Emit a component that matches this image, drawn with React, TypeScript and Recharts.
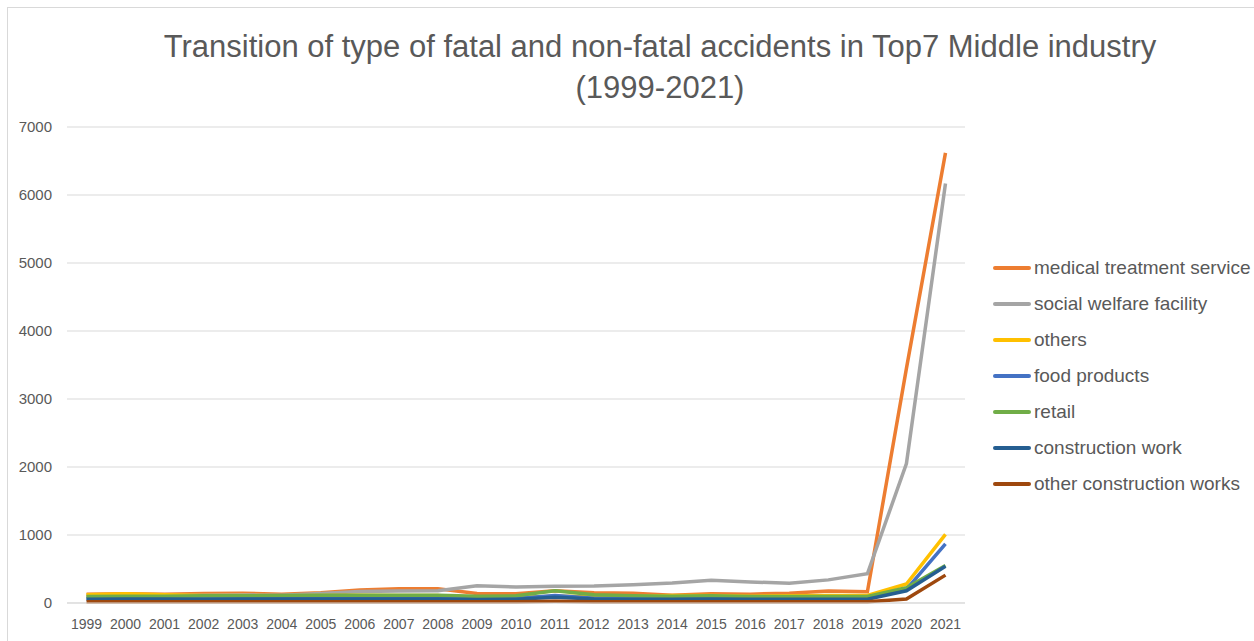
import { LineChart, Line, XAxis, YAxis, CartesianGrid } from 'recharts'

const years = ['1999', '2000', '2001', '2002', '2003', '2004', '2005', '2006', '2007', '2008', '2009', '2010', '2011', '2012', '2013', '2014', '2015', '2016', '2017', '2018', '2019', '2020', '2021']

const medical = [130, 135, 130, 140, 145, 130, 150, 190, 210, 210, 140, 135, 180, 150, 145, 115, 135, 130, 145, 175, 165, 3450, 6620]
const welfare = [100, 105, 110, 115, 120, 115, 140, 170, 175, 180, 255, 235, 245, 250, 270, 295, 335, 310, 290, 340, 430, 2050, 6170]
const others = [120, 135, 120, 110, 110, 105, 110, 115, 110, 110, 65, 80, 100, 95, 100, 110, 110, 100, 105, 110, 110, 280, 1010]
const food = [70, 70, 70, 65, 70, 70, 65, 65, 65, 70, 60, 65, 110, 70, 70, 70, 70, 65, 65, 65, 65, 200, 870]
const retail = [95, 100, 100, 105, 105, 110, 115, 115, 115, 115, 100, 105, 180, 120, 105, 100, 105, 95, 95, 95, 95, 225, 550]
const construction = [55, 60, 60, 55, 60, 60, 60, 60, 60, 60, 50, 55, 85, 60, 55, 55, 60, 55, 55, 55, 55, 180, 540]
const otherConstruction = [20, 20, 20, 20, 20, 20, 20, 20, 20, 20, 20, 20, 25, 20, 20, 20, 20, 20, 20, 20, 20, 60, 410]

const yTicks = [0, 1000, 2000, 3000, 4000, 5000, 6000, 7000]

const series = [
  { key: 'medical', name: 'medical treatment service', values: medical, color: '#ED7D31' },
  { key: 'welfare', name: 'social welfare facility', values: welfare, color: '#A5A5A5' },
  { key: 'others', name: 'others', values: others, color: '#FFC000' },
  { key: 'food', name: 'food products', values: food, color: '#4472C4' },
  { key: 'retail', name: 'retail', values: retail, color: '#70AD47' },
  { key: 'construction', name: 'construction work', values: construction, color: '#255E91' },
  { key: 'otherConstruction', name: 'other construction works', values: otherConstruction, color: '#9E480E' },
]

const data = years.map((year, i) => {
  const row: Record<string, any> = { year }
  series.forEach(s => { row[s.key] = s.values[i] })
  return row
})

const font = '"Liberation Sans", Arial, sans-serif'

export default function App() {
  return (
    <div style={{ position: 'absolute', left: 0, top: 0, width: 1254, height: 641, background: '#fff', overflow: 'hidden', fontFamily: font }}>
      <div style={{ position: 'absolute', left: 7, top: 7, width: 1260, height: 660, borderLeft: '1px solid #d9d9d9', borderTop: '1px solid #d9d9d9' }} />
      <div style={{ position: 'absolute', left: 60, top: 26, width: 1200, textAlign: 'center', fontSize: 31, lineHeight: '41px', color: '#595959' }}>
        Transition of type of fatal and non-fatal accidents in Top7 Middle industry
        <br />
        (1999-2021)
      </div>
      <div style={{ position: 'absolute', left: 0, top: 0 }}>
        <LineChart width={1254} height={641} data={data} margin={{ top: 127, right: 289, bottom: 8, left: 0 }}>
          <CartesianGrid vertical={false} stroke="#d9d9d9" strokeWidth={1} />
          <XAxis
            dataKey="year"
            scale="band"
            height={30}
            axisLine={{ stroke: '#d9d9d9' }}
            tickLine={false}
            interval={0}
            tickMargin={10}
            tick={{ fontSize: 14, fill: '#595959', fontFamily: font }}
          />
          <YAxis
            width={67}
            domain={[0, 7000]}
            ticks={yTicks}
            axisLine={false}
            tickLine={false}
            tickMargin={9}
            tick={{ fontSize: 15, fill: '#595959', fontFamily: font }}
          />
          {series.map(s => (
            <Line
              key={s.key}
              dataKey={s.key}
              name={s.name}
              type="linear"
              stroke={s.color}
              strokeWidth={3.5}
              dot={false}
              activeDot={false}
              isAnimationActive={false}
            />
          ))}
        </LineChart>
      </div>
      <div style={{ position: 'absolute', left: 993, top: 250 }}>
        {series.map(s => (
          <div key={s.key} style={{ display: 'flex', alignItems: 'center', height: 36 }}>
            <span style={{ width: 38, height: 4, borderRadius: 2, backgroundColor: s.color, display: 'inline-block' }}></span>
            <span style={{ marginLeft: 3, fontSize: 19, color: '#595959', whiteSpace: 'nowrap' }}>{s.name}</span>
          </div>
        ))}
      </div>
    </div>
  )
}
